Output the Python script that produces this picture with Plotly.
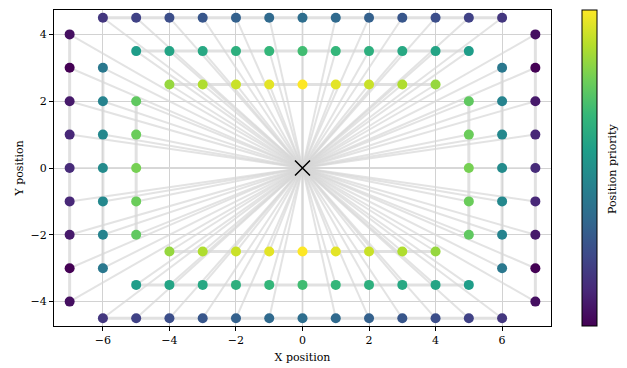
import plotly.graph_objects as go

# ---- data ----
outer_col_x = [-7, 7]
outer_col_y = [4, 3, 2, 1, 0, -1, -2, -3, -4]
outer_col_priority = [0.04, 0.0, 0.07, 0.11, 0.12, 0.11, 0.07, 0.0, 0.04]

outer_row_y = [4.5, -4.5]
outer_row_x = [-6, -5, -4, -3, -2, -1, 0, 1, 2, 3, 4, 5, 6]
outer_row_priority = [0.16, 0.2, 0.24, 0.27, 0.31, 0.34, 0.36, 0.34, 0.31, 0.27, 0.24, 0.2, 0.16]

mid_col_x = [-6, 6]
mid_col_y = [3, 2, 1, 0, -1, -2, -3]
mid_col_priority = [0.4, 0.45, 0.47, 0.48, 0.47, 0.45, 0.4]

mid_row_y = [3.5, -3.5]
mid_row_x = [-5, -4, -3, -2, -1, 0, 1, 2, 3, 4, 5]
mid_row_priority = [0.55, 0.58, 0.6, 0.63, 0.66, 0.69, 0.66, 0.63, 0.6, 0.58, 0.55]

inner_col_x = [-5, 5]
inner_col_y = [2, 1, 0, -1, -2]
inner_col_priority = [0.75, 0.77, 0.79, 0.77, 0.75]

inner_row_y = [2.5, -2.5]
inner_row_x = [-4, -3, -2, -1, 0, 1, 2, 3, 4]
inner_row_priority = [0.84, 0.88, 0.92, 0.96, 1.0, 0.96, 0.92, 0.88, 0.84]

center_x = [0]
center_y = [0]

# ---- build point lists ----
px, py, pc = [], [], []
segments = []  # (xs, ys) for connecting ring lines
for cx in outer_col_x:
    px += [cx] * len(outer_col_y); py += outer_col_y; pc += outer_col_priority
    segments.append(([cx] * len(outer_col_y), outer_col_y))
for ry in outer_row_y:
    px += outer_row_x; py += [ry] * len(outer_row_x); pc += outer_row_priority
    segments.append((outer_row_x, [ry] * len(outer_row_x)))
for cx in mid_col_x:
    px += [cx] * len(mid_col_y); py += mid_col_y; pc += mid_col_priority
    segments.append(([cx] * len(mid_col_y), mid_col_y))
for ry in mid_row_y:
    px += mid_row_x; py += [ry] * len(mid_row_x); pc += mid_row_priority
    segments.append((mid_row_x, [ry] * len(mid_row_x)))
for cx in inner_col_x:
    px += [cx] * len(inner_col_y); py += inner_col_y; pc += inner_col_priority
    segments.append(([cx] * len(inner_col_y), inner_col_y))
for ry in inner_row_y:
    px += inner_row_x; py += [ry] * len(inner_row_x); pc += inner_row_priority
    segments.append((inner_row_x, [ry] * len(inner_row_x)))

# star lines from center to each point
sx, sy = [], []
for x, y in zip(px, py):
    sx += [center_x[0], x, None]
    sy += [center_y[0], y, None]

# ring lines
rx, ry_ = [], []
for xs, ys in segments:
    rx += list(xs) + [None]
    ry_ += list(ys) + [None]

fig = go.Figure()
fig.add_trace(go.Scatter(x=sx, y=sy, mode="lines",
                         line=dict(color="rgba(215,215,215,0.7)", width=2),
                         hoverinfo="skip", showlegend=False))
fig.add_trace(go.Scatter(x=rx, y=ry_, mode="lines",
                         line=dict(color="rgba(215,215,215,0.75)", width=3),
                         hoverinfo="skip", showlegend=False))
fig.add_trace(go.Scatter(
    x=px, y=py, mode="markers", showlegend=False,
    marker=dict(size=10, color=pc, colorscale="Viridis", cmin=0, cmax=1,
                line=dict(width=0),
                colorbar=dict(
                    x=1.062, xanchor="left", y=0.5, yanchor="middle",
                    xpad=0, ypad=0,
                    len=1.0, lenmode="fraction", thickness=15,
                    outlinecolor="black", outlinewidth=1,
                    showticklabels=False, ticks="",
                ))))
fig.add_trace(go.Scatter(x=center_x, y=center_y, mode="markers", showlegend=False,
                         marker=dict(symbol="x-thin", size=15,
                                     line=dict(color="black", width=1.5))))

axis_common = dict(showline=True, linecolor="black", linewidth=1, mirror=True,
                   ticks="outside", ticklen=4, tickcolor="black", tickwidth=1,
                   showgrid=True, gridcolor="#d2d2d2", gridwidth=1,
                   zeroline=False,
                   tickfont=dict(family="DejaVu Serif", size=11, color="black"))

fig.update_xaxes(range=[-7.47, 7.47], tickvals=[-6, -4, -2, 0, 2, 4, 6],
                 title=dict(text="X position", standoff=7,
                            font=dict(family="DejaVu Serif", size=11, color="black")),
                 **axis_common)
fig.update_yaxes(range=[-4.73, 4.73], tickvals=[-4, -2, 0, 2, 4],
                 title=dict(text="Y position", standoff=4,
                            font=dict(family="DejaVu Serif", size=11, color="black")),
                 **axis_common)

# colorbar label
fig.add_annotation(text="Position priority", xref="paper", yref="paper",
                   x=1.1227, y=0.5, xanchor="center", yanchor="middle",
                   textangle=-90, showarrow=False,
                   font=dict(family="DejaVu Serif", size=11, color="black"))

# page has an 8px body margin, so the figure is sized/offset to compensate
fig.update_layout(width=619, height=360,
                  margin=dict(l=46, r=76, t=2, b=42, autoexpand=False),
                  plot_bgcolor="white", paper_bgcolor="white",
                  font=dict(family="DejaVu Serif", size=11, color="black"))

fig.write_html("out.html")
